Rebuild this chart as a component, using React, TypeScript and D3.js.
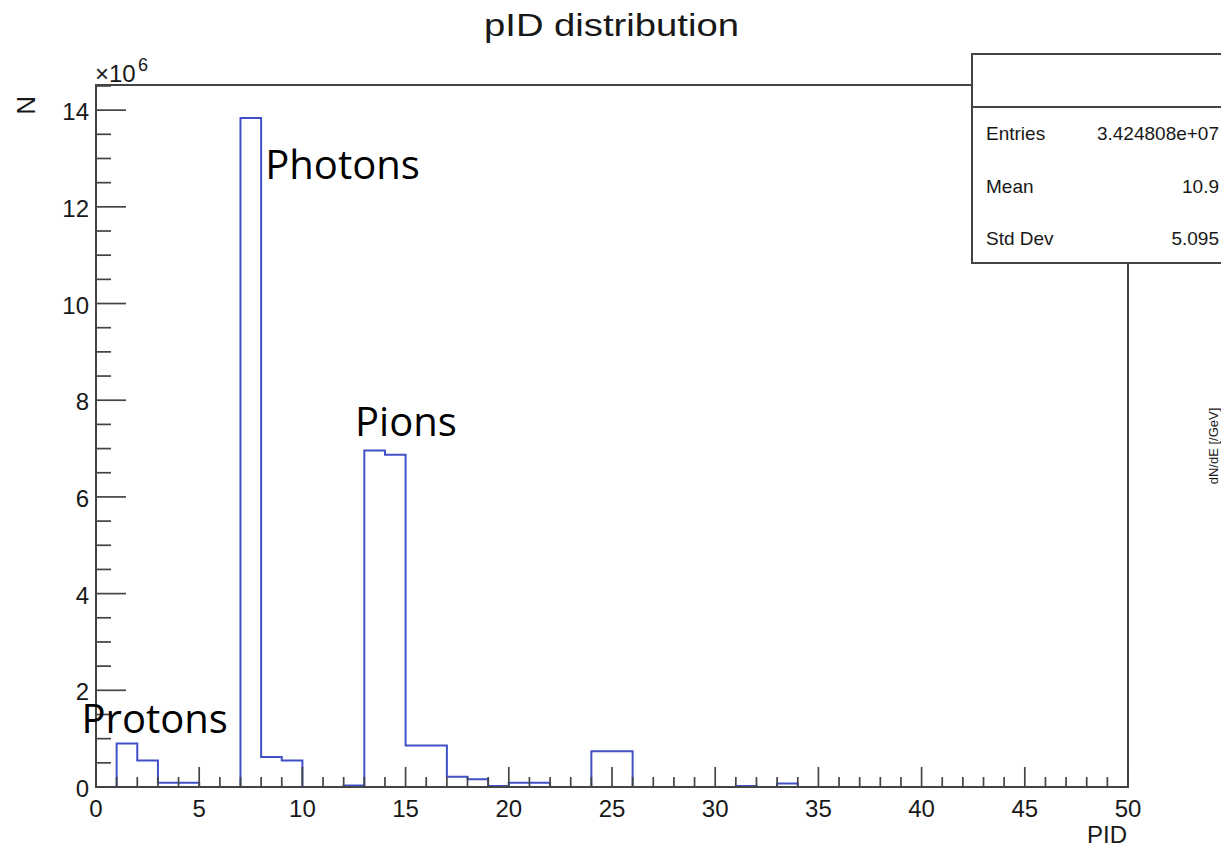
import React from "react";
import * as d3 from "d3";

// Histogram of particle IDs: 50 unit-wide bins over [0, 50], counts in units of 10^6
const binEdgesLow = d3.range(0, 50);
const binCounts = [
  0, 0.9, 0.55, 0.09, 0.09, 0, 0, 13.84, 0.62, 0.55,
  0, 0, 0.03, 6.96, 6.87, 0.86, 0.86, 0.21, 0.16, 0.02,
  0.09, 0.09, 0, 0, 0.74, 0.74, 0, 0, 0, 0,
  0, 0.02, 0, 0.07, 0, 0, 0, 0, 0, 0,
  0, 0, 0, 0, 0, 0, 0, 0, 0, 0,
];
const xMajorTicks = [0, 5, 10, 15, 20, 25, 30, 35, 40, 45, 50];
const yMajorTicks = [0, 2, 4, 6, 8, 10, 12, 14];
const statsRows = [
  { name: "Entries", value: "3.424808e+07" },
  { name: "Mean", value: "10.9" },
  { name: "Std Dev", value: "5.095" },
];
const annotations = [
  { text: "Photons", pid: 8.2, n: 12.58 },
  { text: "Pions", pid: 12.55, n: 7.25 },
  { text: "Protons", pid: -0.7, n: 1.12 },
];

const W = 1221;
const H = 849;
const frame = { left: 96, right: 1128, top: 85, bottom: 787 };
const yMax = 14.52;
const sans = "'Liberation Sans', Arial, Helvetica, sans-serif";
const axisColor = "#444";
const textColor = "#181818";

export default function App() {
  const x = d3.scaleLinear().domain([0, 50]).range([frame.left, frame.right]);
  const y = d3.scaleLinear().domain([0, yMax]).range([frame.bottom, frame.top]);

  // Step outline of the histogram
  const pts: [number, number][] = [[0, 0]];
  binEdgesLow.forEach((lo, i) => {
    pts.push([lo, binCounts[i]]);
    pts.push([lo + 1, binCounts[i]]);
  });
  pts.push([50, 0]);
  const stepPath = d3
    .line<[number, number]>()
    .x((d) => x(d[0]))
    .y((d) => y(d[1]))(pts) as string;

  const xMinor = d3.range(0, 51).filter((v) => v % 5 !== 0);
  const yMinor = d3.range(0, yMax, 0.5).filter((v) => v % 2 !== 0);

  const box = { left: 972, top: 54, right: 1226, sep: 107, bottom: 263 };

  return (
    <svg
      width={W}
      height={H}
      viewBox={`0 0 ${W} ${H}`}
      style={{ position: "absolute", left: 0, top: 0, background: "#fff", display: "block" }}
    >
      <rect x={0} y={0} width={W} height={H} fill="#fff" />

      {/* title */}
      <text
        x={611.5}
        y={36}
        textAnchor="middle"
        fontFamily={sans}
        fontSize={31}
        textLength={255}
        lengthAdjust="spacingAndGlyphs"
        fill={textColor}
      >
        pID distribution
      </text>

      {/* histogram */}
      <path d={stepPath} fill="none" stroke="#4050c8" strokeWidth={2} strokeLinejoin="miter" />

      {/* frame */}
      <rect
        x={frame.left}
        y={frame.top}
        width={frame.right - frame.left}
        height={frame.bottom - frame.top}
        fill="none"
        stroke={axisColor}
        strokeWidth={2}
      />

      {/* x axis ticks */}
      {xMajorTicks.map((v) => (
        <line key={`xM${v}`} x1={x(v)} x2={x(v)} y1={frame.bottom} y2={frame.bottom - 20} stroke={axisColor} strokeWidth={1.7} />
      ))}
      {xMinor.map((v) => (
        <line key={`xm${v}`} x1={x(v)} x2={x(v)} y1={frame.bottom} y2={frame.bottom - 10} stroke={axisColor} strokeWidth={1.7} />
      ))}
      {xMajorTicks.map((v) => (
        <text key={`xl${v}`} x={x(v)} y={817} textAnchor="middle" fontFamily={sans} fontSize={24} fill={textColor}>
          {v}
        </text>
      ))}
      <text x={1127} y={843} textAnchor="end" fontFamily={sans} fontSize={24} fill={textColor}>
        PID
      </text>

      {/* y axis ticks */}
      {yMajorTicks.map((v) => (
        <line key={`yM${v}`} x1={frame.left} x2={frame.left + 30} y1={y(v)} y2={y(v)} stroke={axisColor} strokeWidth={1.7} />
      ))}
      {yMinor.map((v) => (
        <line key={`ym${v}`} x1={frame.left} x2={frame.left + 15} y1={y(v)} y2={y(v)} stroke={axisColor} strokeWidth={1.7} />
      ))}
      {yMajorTicks.map((v) => (
        <text key={`yl${v}`} x={89} y={y(v) + 10} textAnchor="end" fontFamily={sans} fontSize={24} fill={textColor}>
          {v}
        </text>
      ))}
      <text x={95} y={82} fontFamily={sans} fontSize={24} fill={textColor}>
        ×10
      </text>
      <text x={138} y={71} fontFamily={sans} fontSize={18} fill={textColor}>
        6
      </text>
      <text
        transform="translate(35,96) rotate(-90)"
        textAnchor="end"
        fontFamily={sans}
        fontSize={26}
        fill={textColor}
      >
        N
      </text>

      {/* right-hand label */}
      <text
        transform="translate(1218,446) rotate(-90)"
        textAnchor="middle"
        fontFamily={sans}
        fontSize={13}
        fill={textColor}
      >
        dN/dE [/GeV]
      </text>

      {/* statistics box */}
      <rect
        x={box.left}
        y={box.top}
        width={box.right - box.left}
        height={box.bottom - box.top}
        fill="#fff"
        stroke={axisColor}
        strokeWidth={2}
      />
      <line x1={box.left} x2={box.right} y1={box.sep} y2={box.sep} stroke={axisColor} strokeWidth={2} />
      {statsRows.map((r, i) => (
        <g key={r.name}>
          <text x={986} y={140 + i * 52.5} fontFamily={sans} fontSize={19} fill={textColor}>
            {r.name}
          </text>
          <text x={1219} y={140 + i * 52.5} textAnchor="end" fontFamily={sans} fontSize={19} fill={textColor}>
            {r.value}
          </text>
        </g>
      ))}

      {/* particle annotations */}
      {annotations.map((a) => (
        <text
          key={a.text}
          x={x(a.pid)}
          y={y(a.n)}
          fontFamily="'Open Sans', 'Noto Sans', sans-serif"
          fontSize={40}
          fill="#000"
        >
          {a.text}
        </text>
      ))}
    </svg>
  );
}
